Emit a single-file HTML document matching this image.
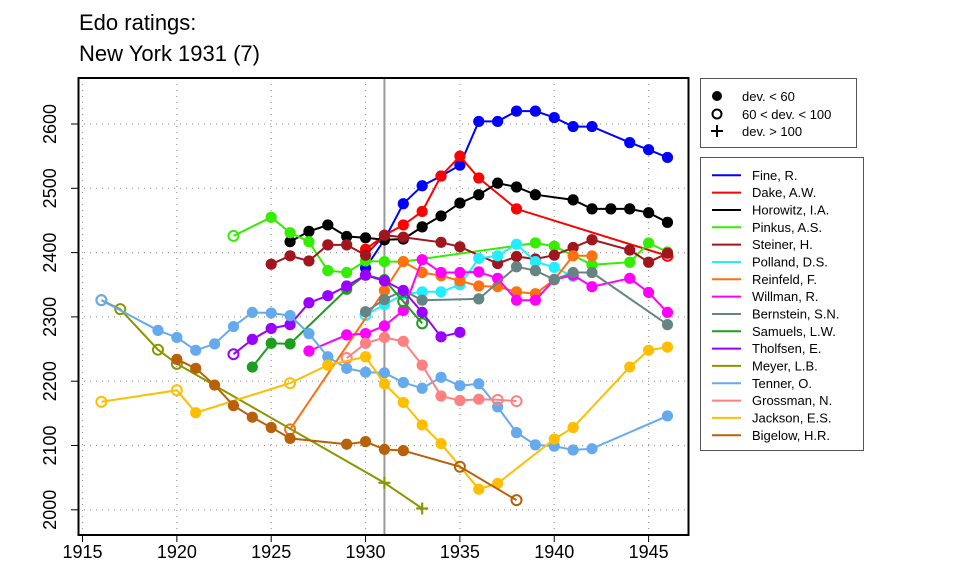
<!DOCTYPE html>
<html><head><meta charset="utf-8"><style>
body{margin:0;background:#fff;}
svg{display:block;font-family:"Liberation Sans",Arial,sans-serif;}
</style></head><body>
<svg id="chart" width="960" height="576" viewBox="0 0 960 576" xmlns="http://www.w3.org/2000/svg">
<text x="79" y="30" font-size="22" fill="#000">Edo ratings:</text>
<text x="79" y="61" font-size="22" fill="#000">New York 1931 (7)</text>
<g id="grid"></g>
<g id="axes"></g>
<g id="series"></g>
<rect x="78.5" y="78" width="610" height="457" fill="none" stroke="#000" stroke-width="2"/>
<g id="legend1">
<rect x="700.5" y="78.5" width="156" height="69" fill="#fff" stroke="#555" stroke-width="1"/>
<circle cx="717" cy="96" r="5" fill="#000"/>
<circle cx="717" cy="114" r="4.5" fill="none" stroke="#000" stroke-width="2"/>
<path d="M711 131 H723 M717 125 V137" stroke="#000" stroke-width="2"/>
<text x="742" y="101" font-size="13">dev. &lt; 60</text>
<text x="742" y="119" font-size="13">60 &lt; dev. &lt; 100</text>
<text x="742" y="136" font-size="13">dev. &gt; 100</text>
</g>
<g id="legend2">
<rect x="700.5" y="157.5" width="163" height="293" fill="#fff" stroke="#555" stroke-width="1"/>
</g>
</svg>
<script>
const xTicks=[1915,1920,1925,1930,1935,1940,1945];
const yTicks=[2000,2100,2200,2300,2400,2500,2600];
const eventYear=1931;
const playerNames=["Fine, R.","Dake, A.W.","Horowitz, I.A.","Pinkus, A.S.","Steiner, H.","Polland, D.S.","Reinfeld, F.","Willman, R.","Bernstein, S.N.","Samuels, L.W.","Tholfsen, E.","Meyer, L.B.","Tenner, O.","Grossman, N.","Jackson, E.S.","Bigelow, H.R."];
const fineYears=[1930,1931,1932,1933,1934,1935,1936,1937,1938,1939,1940,1941,1942,1944,1945,1946];
const fineRatings=[2376,2420,2476,2504,2519,2536,2604,2604,2620,2620,2610,2596,2596,2571,2560,2548];
const fineMarks="ffffffffffffffff";
const dakeYears=[1930,1931,1932,1933,1934,1935,1936,1938,1946];
const dakeRatings=[2405,2427,2443,2464,2519,2550,2516,2468,2395];
const dakeMarks="ffffffffo";
const horowitzYears=[1926,1927,1928,1929,1930,1931,1932,1933,1934,1935,1936,1937,1938,1939,1941,1942,1943,1944,1945,1946];
const horowitzRatings=[2417,2433,2443,2425,2423,2420,2421,2440,2457,2477,2490,2508,2502,2490,2482,2468,2468,2468,2462,2447];
const horowitzMarks="ffffffffffffffffffff";
const pinkusYears=[1923,1925,1926,1927,1928,1929,1930,1931,1932,1939,1940,1942,1944,1945,1946];
const pinkusRatings=[2426,2455,2431,2417,2372,2369,2387,2386,2386,2415,2410,2381,2385,2415,2401];
const pinkusMarks="offffffffffffff";
const steinerYears=[1925,1926,1927,1928,1929,1930,1931,1932,1934,1935,1937,1938,1939,1940,1941,1942,1944,1945,1946];
const steinerRatings=[2382,2395,2387,2412,2412,2396,2427,2424,2416,2409,2383,2394,2390,2396,2408,2420,2404,2385,2399];
const steinerMarks="fffffffffffffffffff";
const pollandYears=[1930,1931,1932,1933,1934,1935,1936,1937,1938,1939,1940,1941];
const pollandRatings=[2303,2319,2335,2339,2339,2350,2391,2395,2413,2386,2377,2363];
const pollandMarks="offfffffffff";
const reinfeldYears=[1926,1931,1932,1933,1934,1935,1936,1937,1938,1939,1940,1941,1942];
const reinfeldRatings=[2125,2341,2386,2369,2364,2356,2348,2347,2339,2336,2358,2395,2395];
const reinfeldMarks="offffffffffff";
const willmanYears=[1927,1929,1930,1931,1932,1933,1934,1935,1936,1937,1938,1939,1940,1941,1942,1944,1945,1946];
const willmanRatings=[2247,2272,2274,2286,2310,2389,2369,2369,2370,2360,2326,2326,2358,2365,2347,2360,2338,2307];
const willmanMarks="ffffffffffffffffff";
const bernsteinYears=[1930,1931,1932,1933,1936,1938,1939,1940,1941,1942,1946];
const bernsteinRatings=[2308,2327,2341,2326,2328,2378,2372,2358,2369,2369,2288];
const bernsteinMarks="fffffffffff";
const samuelsYears=[1924,1925,1926,1929,1930,1931,1932,1933];
const samuelsRatings=[2222,2259,2258,2343,2365,2358,2324,2290];
const samuelsMarks="ffffffoo";
const tholfsenYears=[1923,1924,1925,1926,1927,1928,1929,1930,1931,1932,1933,1934,1935];
const tholfsenRatings=[2242,2265,2282,2288,2322,2333,2348,2365,2356,2341,2307,2269,2276];
const tholfsenMarks="offffffffffff";
const meyerYears=[1916,1917,1919,1920,1931,1933];
const meyerRatings=[2326,2312,2249,2227,2042,2002];
const meyerMarks="oooopp";
const tennerYears=[1916,1919,1920,1921,1922,1923,1924,1925,1926,1927,1928,1929,1930,1931,1932,1933,1934,1935,1936,1937,1938,1939,1940,1941,1942,1946];
const tennerRatings=[2326,2279,2268,2248,2258,2285,2307,2306,2302,2274,2238,2220,2214,2213,2198,2189,2206,2193,2196,2160,2120,2101,2099,2093,2095,2146];
const tennerMarks="offfffffffffffffffffffffff";
const grossmanYears=[1929,1930,1931,1932,1933,1934,1935,1936,1937,1938];
const grossmanRatings=[2236,2259,2268,2262,2225,2177,2170,2172,2171,2169];
const grossmanMarks="offfffffoo";
const jacksonYears=[1916,1920,1921,1926,1928,1930,1931,1932,1933,1934,1936,1937,1940,1941,1944,1945,1946];
const jacksonRatings=[2168,2186,2151,2197,2225,2238,2196,2167,2132,2103,2032,2041,2110,2128,2222,2248,2253];
const jacksonMarks="oofofffffffffffff";
const bigelowYears=[1920,1921,1922,1923,1924,1925,1926,1929,1930,1931,1932,1935,1938];
const bigelowRatings=[2234,2220,2194,2162,2144,2128,2111,2102,2106,2094,2092,2067,2015];
const bigelowMarks="fffffffffffoo";

const seriesYears=[fineYears,dakeYears,horowitzYears,pinkusYears,steinerYears,pollandYears,reinfeldYears,willmanYears,bernsteinYears,samuelsYears,tholfsenYears,meyerYears,tennerYears,grossmanYears,jacksonYears,bigelowYears];
const seriesRatings=[fineRatings,dakeRatings,horowitzRatings,pinkusRatings,steinerRatings,pollandRatings,reinfeldRatings,willmanRatings,bernsteinRatings,samuelsRatings,tholfsenRatings,meyerRatings,tennerRatings,grossmanRatings,jacksonRatings,bigelowRatings];
const seriesMarks=[fineMarks,dakeMarks,horowitzMarks,pinkusMarks,steinerMarks,pollandMarks,reinfeldMarks,willmanMarks,bernsteinMarks,samuelsMarks,tholfsenMarks,meyerMarks,tennerMarks,grossmanMarks,jacksonMarks,bigelowMarks];
const colors=["#0000FF","#FF0000","#000000","#33EE00","#A0151E","#22EEFF","#FF7010","#FF00FF","#678484","#1E9E1E","#9900FF","#8C9600","#66AAEE","#FF8080","#FFBE00","#B8600A"];

const NS="http://www.w3.org/2000/svg";
function X(y){return 82.5+(y-1915)*18.87;}
function Y(v){return 124+(2600-v)*0.643;}
function mk(tag,attrs,parent){const e=document.createElementNS(NS,tag);for(const k in attrs)e.setAttribute(k,attrs[k]);parent.appendChild(e);return e;}
function slug(s){return s.toLowerCase().replace(/[^a-z]+/g,'-').replace(/-+$/,'');}

const grid=document.getElementById('grid'),axes=document.getElementById('axes'),ser=document.getElementById('series');
xTicks.forEach(t=>{
  const g=mk('line',{x1:X(t),x2:X(t),y1:78,y2:535,stroke:'#999','stroke-dasharray':'1 5','stroke-width':1.2},grid);
  
  
  const tk=mk('line',{x1:X(t),x2:X(t),y1:535,y2:542,stroke:'#000','stroke-width':1},axes);
  
  
  const lb=mk('text',{x:X(t),y:558,'font-size':18,'text-anchor':'middle'},axes);
  lb.textContent=t;
  
  
});
yTicks.forEach(t=>{
  const g=mk('line',{x1:78,x2:688,y1:Y(t),y2:Y(t),stroke:'#999','stroke-dasharray':'1 5','stroke-width':1.2},grid);
  
  
  const tk=mk('line',{x1:71,x2:78,y1:Y(t),y2:Y(t),stroke:'#000','stroke-width':1},axes);
  
  
  const lb=mk('text',{x:0,y:0,'font-size':18,'text-anchor':'middle',transform:`translate(56,${Y(t)}) rotate(-90)`},axes);
  lb.textContent=t;
  
  
});
const ev=mk('line',{x1:X(eventYear),x2:X(eventYear),y1:78,y2:535,stroke:'#999','stroke-width':2},grid);



const leg=document.getElementById('legend2');
playerNames.forEach((name,i)=>{
  const g=mk('g',{},ser);
  
  
  const ys=seriesYears[i],rs=seriesRatings[i],ms=seriesMarks[i],c=colors[i];
  const pts=ys.map((y,j)=>X(y).toFixed(1)+','+Y(rs[j]).toFixed(1)).join(' ');
  const pl=mk('polyline',{points:pts,fill:'none',stroke:c,'stroke-width':2},g);
  
  
  ys.forEach((y,j)=>{
    const cx=X(y),cy=Y(rs[j]),m=ms[j];
    let p;
    if(m==='f'){p=mk('circle',{cx:cx,cy:cy,r:5.6,fill:c},g);}
    else if(m==='o'){p=mk('circle',{cx:cx,cy:cy,r:5,fill:'none',stroke:c,'stroke-width':2},g);}
    else {p=mk('path',{d:`M${cx-6} ${cy}H${cx+6}M${cx} ${cy-6}V${cy+6}`,stroke:c,'stroke-width':2.2},g);}
    
    
  });
  const ly=175.3+i*17.33;
  const ll=mk('line',{x1:712,x2:741,y1:ly,y2:ly,stroke:c,'stroke-width':2},leg);
  
  
  const lt=mk('text',{x:752,y:ly+4.5,'font-size':13},leg);
  lt.textContent=name;
  
  
});
</script>
</body></html>
